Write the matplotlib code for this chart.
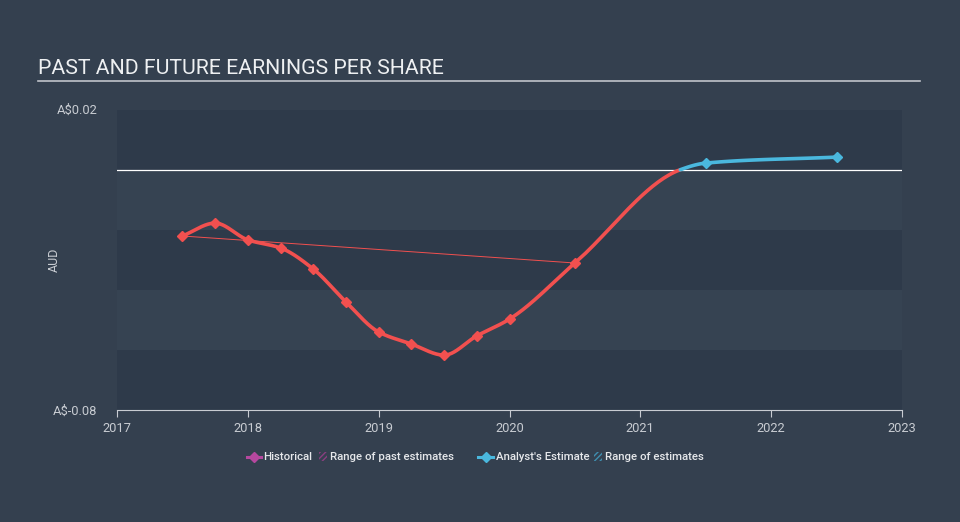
import numpy as np
import matplotlib
matplotlib.use("Agg")
import matplotlib.pyplot as plt
from matplotlib.lines import Line2D
from matplotlib.patches import Rectangle

plt.rcParams['font.family'] = ['Roboto', 'DejaVu Sans']
plt.rcParams['hatch.linewidth'] = 1.0

# historical EPS (AUD)
hist_x = [2017.5, 2017.75, 2018.0, 2018.25, 2018.5, 2018.75, 2019.0,
          2019.25, 2019.5, 2019.75, 2020.0, 2020.5]
hist_y = [-0.022, -0.0177, -0.0233, -0.026, -0.033, -0.044, -0.054,
          -0.058, -0.0617, -0.0553, -0.0497, -0.031]
# last reported point (no marker) where estimates take over
last_x = 2021.3
last_y = 0.0
# analyst estimates
est_x = [2021.5, 2022.5]
est_y = [0.0023, 0.0043]

# thin line for range of past estimates
past_range_x = [2017.5, 2020.5]
past_range_y = [-0.022, -0.031]

year_ticks = [2017, 2018, 2019, 2020, 2021, 2022, 2023]
y_ticks = [-0.08, 0.02]
y_tick_labels = ['A$-0.08', 'A$0.02']

BG = '#34404f'
BAND_DARK = '#2e3a4a'
BAND_LIGHT = '#364352'
RED = '#f2504f'
BLUE = '#4ab8de'
GREY = '#c8ccd2'


def pchip(x, y, n=40):
    # monotone cubic curve through the points, only for drawing
    x = np.asarray(x, float)
    y = np.asarray(y, float)
    h = np.diff(x)
    d = np.diff(y) / h
    m = np.zeros_like(y)
    for k in range(1, len(x) - 1):
        if d[k - 1] * d[k] > 0:
            w1 = 2 * h[k] + h[k - 1]
            w2 = h[k] + 2 * h[k - 1]
            m[k] = (w1 + w2) / (w1 / d[k - 1] + w2 / d[k])
    m[0] = d[0]
    m[-1] = d[-1]
    xs, ys = [], []
    for k in range(len(x) - 1):
        t = np.linspace(0, 1, n)
        h00 = 2 * t**3 - 3 * t**2 + 1
        h10 = t**3 - 2 * t**2 + t
        h01 = -2 * t**3 + 3 * t**2
        h11 = t**3 - t**2
        xs.append(x[k] + t * h[k])
        ys.append(h00 * y[k] + h10 * h[k] * m[k] + h01 * y[k + 1] + h11 * h[k] * m[k + 1])
    return np.concatenate(xs), np.concatenate(ys)


fig = plt.figure(figsize=(9.6, 5.22), dpi=100, facecolor=BG)
ax = fig.add_axes([117 / 960, 112 / 522, 785 / 960, 300 / 522])
ax.set_facecolor(BG)

# alternating bands
for i, lo in enumerate(np.arange(-0.08, 0.02, 0.02)):
    col = BAND_DARK if i % 2 == 0 else BAND_LIGHT
    ax.axhspan(lo, lo + 0.02, color=col, zorder=0, lw=0)

ax.axhline(0, color='white', lw=0.9, zorder=1)

# full curve so the join between red and blue is smooth
all_x = hist_x + [last_x] + est_x
all_y = hist_y + [last_y] + est_y
cx, cy = pchip(all_x, all_y)
red_part = cx <= last_x
ax.plot(cx[red_part], cy[red_part], color=RED, lw=2.6, zorder=3, solid_capstyle='round')
ax.plot(cx[~red_part], cy[~red_part], color=BLUE, lw=2.6, zorder=3, solid_capstyle='round')
ax.plot(hist_x, hist_y, 'D', color=RED, ms=5.5, zorder=4)
ax.plot(est_x, est_y, 'D', color=BLUE, ms=5.5, zorder=4)
ax.plot(past_range_x, past_range_y, color=RED, lw=0.7, zorder=2)

ax.set_xlim(2017, 2023)
ax.set_ylim(-0.08, 0.02)
ax.set_xticks(year_ticks)
ax.set_xticklabels([str(y) for y in year_ticks])
ax.set_yticks(y_ticks)
ax.set_yticklabels(y_tick_labels)
ax.tick_params(axis='x', colors=GREY, labelsize=9.3, length=5, width=0.8, direction='out')
ax.tick_params(axis='y', colors=GREY, labelsize=9.3, length=0, pad=14)
ax.get_yticklabels()[1].set_verticalalignment('center')
for s in ['top', 'right', 'left']:
    ax.spines[s].set_visible(False)
ax.spines['bottom'].set_color(GREY)
ax.spines['bottom'].set_linewidth(0.8)
ax.set_ylabel('AUD', color=GREY, fontsize=9)
ax.yaxis.set_label_coords(-56 / 785, 0.5)

# title with rule under it
fig.text(38 / 960, 1 - 68 / 522, 'PAST AND FUTURE EARNINGS PER SHARE', color='#eef0f2',
         fontsize=15.3, va='center', ha='left')
fig.add_artist(Line2D([38 / 960, 920 / 960], [1 - 81 / 522, 1 - 81 / 522],
                      color='#c0c4ca', lw=1.2))

# legend drawn by hand
ly = 1 - 457 / 522
fs = 8.2
fig.add_artist(Line2D([247 / 960, 261 / 960], [ly, ly], color='#b5489f', lw=2.2))
fig.add_artist(Line2D([254 / 960], [ly], color='#b5489f', marker='D', ms=5.5, lw=0))
fig.text(263 / 960, ly, 'Historical', color='#e6e8eb', fontsize=fs, va='center',
         fontweight='medium')
fig.add_artist(Rectangle((319 / 960, ly - 4 / 522), 8 / 960, 9 / 522, fill=False,
                         hatch='//////', edgecolor='#8a3f80', lw=0))
fig.text(330 / 960, ly, 'Range of past estimates', color='#e6e8eb', fontsize=fs,
         va='center', fontweight='medium')
fig.add_artist(Line2D([478 / 960, 493 / 960], [ly, ly], color=BLUE, lw=2.2))
fig.add_artist(Line2D([485.5 / 960], [ly], color=BLUE, marker='D', ms=5.5, lw=0))
fig.text(496 / 960, ly, "Analyst's Estimate", color='#e6e8eb', fontsize=fs, va='center',
         fontweight='medium')
fig.add_artist(Rectangle((594 / 960, ly - 4 / 522), 8 / 960, 9 / 522, fill=False,
                         hatch='//////', edgecolor='#3f8fb0', lw=0))
fig.text(605 / 960, ly, 'Range of estimates', color='#e6e8eb', fontsize=fs, va='center',
         fontweight='medium')

fig.savefig('out.png', dpi=100, facecolor=BG)
